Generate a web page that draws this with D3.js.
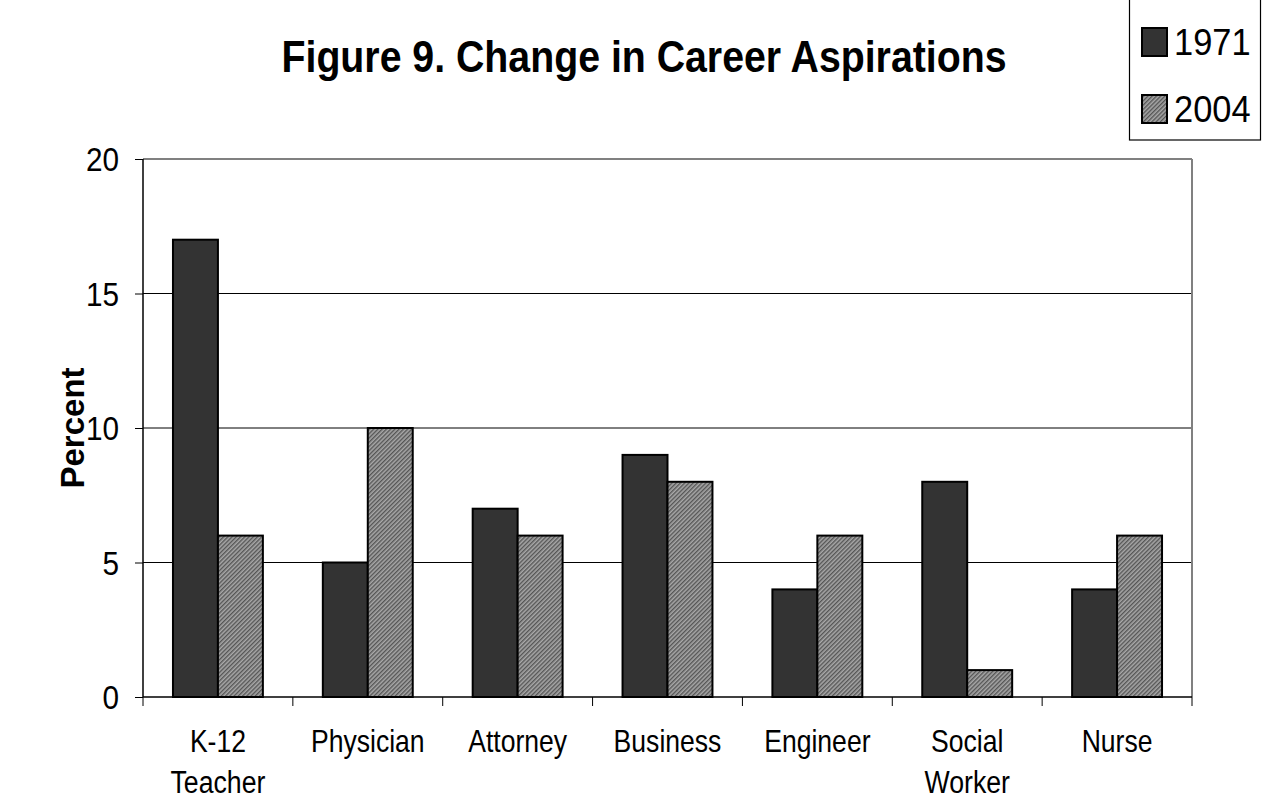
<!DOCTYPE html>
<html><head><meta charset="utf-8">
<script src="https://cdn.jsdelivr.net/npm/d3@7"></script>
<style>body{margin:0;background:#fff}svg{display:block}text{font-family:"Liberation Sans",Arial,sans-serif}</style>
</head><body>
<script>
const categories = [["K-12","Teacher"],["Physician"],["Attorney"],["Business"],["Engineer"],["Social","Worker"],["Nurse"]];
const series1971 = [17,5,7,9,4,8,4];
const series2004 = [6,10,6,8,6,1,6];
const seriesNames = ["1971","2004"];
const yTicks = [0,5,10,15,20];

const W=1263,H=800;
const m={l:143,r:1192,t:159,b:697};
const svg=d3.select("body").append("svg").attr("width",W).attr("height",H);
const defs=svg.append("defs");
const pat=defs.append("pattern").attr("id","hatch").attr("patternUnits","userSpaceOnUse")
  .attr("width",3).attr("height",3).attr("patternTransform","rotate(45)");
pat.append("rect").attr("width",3).attr("height",3).attr("fill","#a8a8a8");
pat.append("rect").attr("width",1.4).attr("height",3).attr("fill","#555");

function condense(sel,f){
  sel.each(function(){
    const L=this.getComputedTextLength();
    d3.select(this).attr("textLength",L*f).attr("lengthAdjust","spacingAndGlyphs");
  });
}

const x=d3.scaleBand().domain(d3.range(categories.length)).range([m.l,m.r]).paddingInner(0.4).paddingOuter(0.2);
const x0=d3.scaleBand().domain(d3.range(categories.length)).range([m.l,m.r]);
const xs=d3.scaleBand().domain([0,1]).range([0,x.bandwidth()]);
const y=d3.scaleLinear().domain([0,20]).range([m.b,m.t]);

// gridlines
svg.append("g").selectAll("line").data(yTicks.filter(d=>d>0&&d<20)).join("line")
  .attr("x1",m.l).attr("x2",m.r).attr("y1",d=>y(d)).attr("y2",d=>y(d)).attr("stroke","#000").attr("stroke-width",1);
// top & right border grey
svg.append("line").attr("x1",m.l).attr("x2",m.r).attr("y1",y(20)).attr("y2",y(20)).attr("stroke","#808080").attr("stroke-width",2);
svg.append("line").attr("x1",m.r).attr("x2",m.r).attr("y1",y(20)).attr("y2",m.b).attr("stroke","#808080").attr("stroke-width",2);

// bars
const data=categories.map((c,i)=>[series1971[i],series2004[i]]);
const g=svg.append("g");
data.forEach((vals,i)=>{
  g.selectAll(null).data(vals).join("rect")
   .attr("x",(d,j)=>x(i)+xs(j)).attr("y",d=>y(d)).attr("width",xs.bandwidth()).attr("height",d=>y(0)-y(d))
   .attr("fill",(d,j)=>j===0?"#333333":"url(#hatch)").attr("stroke","#000").attr("stroke-width",2);
});

// y axis
const ya=svg.append("g").attr("transform",`translate(${m.l},0)`)
  .call(d3.axisLeft(y).tickValues(yTicks).tickSize(8).tickPadding(16));
ya.select(".domain").attr("stroke","#000").attr("stroke-width",1.5).attr("d",`M0,${m.t}V${m.b}`);
ya.selectAll(".tick line").attr("stroke","#000");
ya.selectAll("text").attr("font-size",33).attr("fill","#000").attr("font-family","Liberation Sans, Arial, sans-serif").attr("dy","0.36em");
condense(ya.selectAll("text"),0.9);

// x axis baseline + ticks at boundaries
svg.append("line").attr("x1",m.l).attr("x2",m.r).attr("y1",m.b).attr("y2",m.b).attr("stroke","#000").attr("stroke-width",1.5);
svg.append("g").selectAll("line").data(d3.range(categories.length+1)).join("line")
  .attr("x1",d=>m.l+d*x0.step()).attr("x2",d=>m.l+d*x0.step()).attr("y1",m.b).attr("y2",m.b+9)
  .attr("stroke","#000").attr("stroke-width",1);
const xl=svg.append("g");
categories.forEach((c,i)=>{
  c.forEach((s,k)=>{
    const t=xl.append("text").attr("x",x0(i)+x0.bandwidth()/2).attr("y",752+k*41).attr("text-anchor","middle")
      .attr("font-size",k===0?32:31).text(s);
    condense(t,k===0?0.83:0.86);
  });
});

// y label
svg.append("text").attr("transform",`translate(84,${(m.t+m.b)/2}) rotate(-90)`).attr("text-anchor","middle")
  .attr("font-size",33).attr("font-weight","bold").text("Percent");

// title
const title=svg.append("text").attr("x",644).attr("y",72).attr("text-anchor","middle").attr("font-size",44)
  .attr("font-weight","bold").text("Figure 9. Change in Career Aspirations");
title.attr("textLength",725).attr("lengthAdjust","spacingAndGlyphs");

// legend
const lg=svg.append("g");
lg.append("rect").attr("x",1129.5).attr("y",-2).attr("width",131).attr("height",142).attr("fill","#fff").attr("stroke","#000").attr("stroke-width",1.2);
seriesNames.forEach((s,i)=>{
  const yy=28+i*67;
  lg.append("rect").attr("x",1142).attr("y",yy).attr("width",25).attr("height",28)
    .attr("fill",i===0?"#333333":"url(#hatch)").attr("stroke","#000").attr("stroke-width",2);
  const t=lg.append("text").attr("x",1174).attr("y",yy+27).attr("font-size",37).text(s);
  condense(t,0.93);
});
</script>
</body></html>
